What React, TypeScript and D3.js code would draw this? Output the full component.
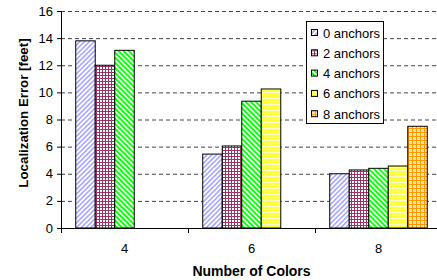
import React from 'react';
import * as d3 from 'd3';

const categories = ['4', '6', '8'];
const seriesNames = ['0 anchors', '2 anchors', '4 anchors', '6 anchors', '8 anchors'];
const anchors0 = [13.8, 5.45, 4.0];
const anchors2 = [12.0, 6.05, 4.28];
const anchors4 = [13.1, 9.35, 4.4];
const anchors6 = [null, 10.25, 4.57];
const anchors8 = [null, null, 7.5];
const yTicks = [0, 2, 4, 6, 8, 10, 12, 14, 16];

const seriesValues = [anchors0, anchors2, anchors4, anchors6, anchors8];

const margins = { top: 11, left: 61, bottom: 228 };
const plotRight = 442;
const font = 'Arial, "Liberation Sans", sans-serif';

const x = d3.scaleBand<string>().domain(categories).range([margins.left, plotRight]);
const bw = x.bandwidth();
const inner = d3.scaleBand<string>().domain(seriesNames).range([bw * 0.116, bw * 0.884]);
const y = d3.scaleLinear().domain([0, 16]).range([margins.bottom, margins.top]);

function Patterns() {
  return (
    <defs>
      <pattern id="p0" width="3.4" height="6" patternUnits="userSpaceOnUse" patternTransform="rotate(45)">
        <rect width="3.4" height="6" fill="#fff" />
        <line x1="0.8" y1="0" x2="0.8" y2="6" stroke="#9999ff" strokeWidth="1.4" />
      </pattern>
      <pattern id="p1" width="3" height="3" patternUnits="userSpaceOnUse">
        <rect width="3" height="3" fill="#fff" />
        <line x1="0" y1="0.5" x2="3" y2="0.5" stroke="#993366" strokeWidth="1" />
        <line x1="0.5" y1="0" x2="0.5" y2="3" stroke="#993366" strokeWidth="1" />
      </pattern>
      <pattern id="p2" width="3.6" height="6" patternUnits="userSpaceOnUse" patternTransform="rotate(-45)">
        <rect width="3.6" height="6" fill="#fff" />
        <line x1="1" y1="0" x2="1" y2="6" stroke="#00ff00" strokeWidth="1.9" />
      </pattern>
      <pattern id="p3" width="6" height="3" patternUnits="userSpaceOnUse">
        <rect width="6" height="3" fill="#ffffcc" />
        <line x1="0" y1="1" x2="6" y2="1" stroke="#ffff00" strokeWidth="1.4" />
      </pattern>
      <pattern id="p4" width="4" height="4" patternUnits="userSpaceOnUse">
        <rect width="4" height="4" fill="#ffe0b0" />
        <line x1="0" y1="0.5" x2="4" y2="0.5" stroke="#ff9900" strokeWidth="1" />
        <line x1="0.5" y1="0" x2="0.5" y2="4" stroke="#ff9900" strokeWidth="1" />
      </pattern>
    </defs>
  );
}

export default function App() {
  const axisTicks = [margins.left, ...categories.slice(1).map((c) => x(c) as number), plotRight];
  return (
    <svg width={437} height={280} style={{ display: 'block', position: 'absolute', left: 0, top: 0 }}>
      <Patterns />
      <rect width={437} height={280} fill="#fff" />
      {/* grid */}
      {yTicks.slice(1).map((t) => (
        <line key={t} x1={margins.left} x2={437} y1={y(t) + 0.5} y2={y(t) + 0.5}
          stroke="#444" strokeWidth={1} strokeDasharray="4,3" />
      ))}
      {/* bars */}
      {seriesValues.map((vals, si) =>
        vals.map((v, ci) =>
          v == null ? null : (
            <rect key={si + '-' + ci}
              x={(x(categories[ci]) as number) + (inner(seriesNames[si]) as number)}
              y={y(v)}
              width={inner.bandwidth()}
              height={y(0) - y(v)}
              fill={`url(#p${si})`} stroke="#000" strokeWidth={1} />
          )
        )
      )}
      {/* y axis */}
      <line x1={margins.left + 0.5} x2={margins.left + 0.5} y1={y(16)} y2={y(0)} stroke="#000" />
      {yTicks.map((t) => (
        <g key={t}>
          <line x1={margins.left - 4} x2={margins.left} y1={y(t) + 0.5} y2={y(t) + 0.5} stroke="#000" />
          <text x={margins.left - 8} y={y(t) + 4.5} textAnchor="end" fontSize={13} fontFamily={font} fill="#000">{t}</text>
        </g>
      ))}
      {/* x axis */}
      <line x1={margins.left} x2={437} y1={y(0) + 0.5} y2={y(0) + 0.5} stroke="#000" />
      {axisTicks.map((t, i) => (
        <line key={i} x1={t + 0.5} x2={t + 0.5} y1={y(0)} y2={y(0) + 5} stroke="#000" />
      ))}
      {categories.map((c) => (
        <text key={c} x={(x(c) as number) + bw / 2} y={253} textAnchor="middle" fontSize={13} fontFamily={font} fill="#000">{c}</text>
      ))}
      <text x={(margins.left + plotRight) / 2} y={276} textAnchor="middle" fontSize={14} fontWeight="bold" fontFamily={font}>Number of Colors</text>
      <text transform="translate(28,113) rotate(-90)" textAnchor="middle" fontSize={13.3} fontWeight="bold" fontFamily={font}>Localization Error [feet]</text>
      {/* legend */}
      <rect x={306.5} y={21.5} width={77} height={102} fill="#fff" stroke="#000" />
      {seriesNames.map((s, i) => (
        <g key={s} transform={`translate(311,${33 + i * 20.3})`}>
          <rect x={0.5} y={-3.5} width={6} height={6} fill={`url(#p${i})`} stroke="#000" />
          <text x={12} y={4.5} fontSize={13} fontFamily={font} fill="#000">{s}</text>
        </g>
      ))}
    </svg>
  );
}
